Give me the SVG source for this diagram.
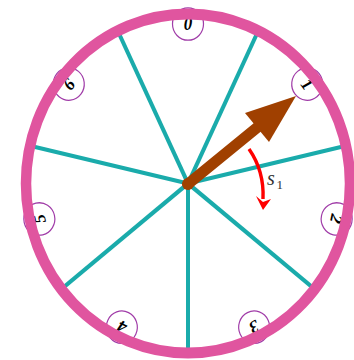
<svg xmlns="http://www.w3.org/2000/svg" width="354" height="360" viewBox="0 0 354 360">
<style>
.spoke{stroke:#1aabab;stroke-width:4;fill:none}
.dc{fill:#fff;stroke:#a03ca8;stroke-width:1.2}
.dt{font-family:"Liberation Serif",serif;font-style:italic;font-weight:bold;font-size:17px;fill:#000;text-anchor:middle}
.rim{fill:none;stroke:#e0559f;stroke-width:10.5}
</style>
<rect width="354" height="360" fill="#fff"/>
<g transform="translate(188,183.5) scale(1,1.046)">
  <g id="connectors">
    <line class="spoke" x1="0" y1="0" x2="0" y2="-160" transform="rotate(25.714)"/>
    <line class="spoke" x1="0" y1="0" x2="0" y2="-160" transform="rotate(77.143)"/>
    <line class="spoke" x1="0" y1="0" x2="0" y2="-160" transform="rotate(128.571)"/>
    <line class="spoke" x1="0" y1="0" x2="0" y2="-160" transform="rotate(180)"/>
    <line class="spoke" x1="0" y1="0" x2="0" y2="-160" transform="rotate(231.429)"/>
    <line class="spoke" x1="0" y1="0" x2="0" y2="-160" transform="rotate(282.857)"/>
    <line class="spoke" x1="0" y1="0" x2="0" y2="-160" transform="rotate(334.286)"/>
  </g>
  <g id="d0" transform="rotate(0)"><circle class="dc" cx="0" cy="-152.5" r="15.5"/><text class="dt" x="0" y="-146.5">0</text></g>
  <g id="d1" transform="rotate(51.429)"><circle class="dc" cx="0" cy="-152.5" r="15.5"/><text class="dt" x="0" y="-146.5">1</text></g>
  <g id="d2" transform="rotate(102.857)"><circle class="dc" cx="0" cy="-152.5" r="15.5"/><text class="dt" x="0" y="-146.5">2</text></g>
  <g id="d3" transform="rotate(154.286)"><circle class="dc" cx="0" cy="-152.5" r="15.5"/><text class="dt" x="0" y="-146.5">3</text></g>
  <g id="d4" transform="rotate(205.714)"><circle class="dc" cx="0" cy="-152.5" r="15.5"/><text class="dt" x="0" y="-146.5">4</text></g>
  <g id="d5" transform="rotate(257.143)"><circle class="dc" cx="0" cy="-152.5" r="15.5"/><text class="dt" x="0" y="-146.5">5</text></g>
  <g id="d6" transform="rotate(308.571)"><circle class="dc" cx="0" cy="-152.5" r="15.5"/><text class="dt" x="0" y="-146.5">6</text></g>
  <g id="rim"><circle class="rim" cx="0" cy="0" r="162"/></g>
</g>
<g id="pointer">
  <line x1="188" y1="184" x2="259" y2="126" stroke="#a04000" stroke-width="11" stroke-linecap="round"/>
  <polygon points="296,96 245,113 269,142" fill="#a04000"/>
  <circle cx="188" cy="184" r="6" fill="#a04000"/>
</g>
<g id="s1">
  <path d="M249,149 C258,162 264,178 263,199" fill="none" stroke="#f00" stroke-width="3.4"/>
  <polygon points="256,196 263,210 271,199 263,202" fill="#f00"/>
  <text x="267" y="185" font-family="Liberation Serif, serif" font-style="italic" font-size="20" fill="#333">s</text>
  <text x="276.5" y="189" font-family="Liberation Serif, serif" font-size="13" fill="#333">1</text>
</g>
</svg>
